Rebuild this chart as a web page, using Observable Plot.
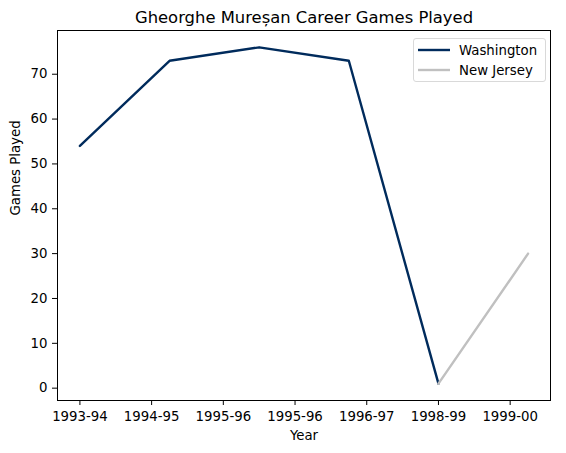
<!DOCTYPE html>
<html>
<head>
<meta charset="utf-8">
<script src="https://cdn.jsdelivr.net/npm/d3@7"></script>
<script src="https://cdn.jsdelivr.net/npm/@observablehq/plot@0.6"></script>
<style>
  html, body { margin: 0; padding: 0; background: #fff; }
  #wrap { position: relative; width: 566px; height: 453px; font-family: "DejaVu Sans", sans-serif; }
  #legend { position: absolute; left: 413px; top: 38px; width: 133px; height: 44px; box-sizing: border-box;
    border: 1px solid #d9d9d9; border-radius: 3px; background: rgba(255,255,255,0.8); font-size: 13.3px; }
  .item { position: absolute; left: 4px; height: 18px; display: flex; align-items: center; }
  .item svg { margin-right: 9px; }
</style>
</head>
<body>
<div id="wrap"><div id="legend"></div></div>
<script>
const title = "Gheorghe Mureșan Career Games Played";
const xLabel = "Year";
const yLabel = "Games Played";
const seriesNames = ["Washington", "New Jersey"];
const seriesColors = ["#002B5C", "#C0C0C0"];
const washX = [0, 1, 2, 3, 4];
const washGames = [54, 73, 76, 73, 1];
const njX = [4, 5];
const njGames = [1, 30];
const xTickValues = [0, 0.8, 1.6, 2.4, 3.2, 4.0, 4.8];
const xTickLabels = ["1993-94", "1994-95", "1995-96", "1995-96", "1996-97", "1998-99", "1999-00"];
const yTickValues = [0, 10, 20, 30, 40, 50, 60, 70];

const wash = washX.map((x, i) => ({x, y: washGames[i], team: seriesNames[0]}));
const nj = njX.map((x, i) => ({x, y: njGames[i], team: seriesNames[1]}));

const fs = 13.3;
const chart = Plot.plot({
  width: 566,
  height: 453,
  marginLeft: 57,
  marginRight: 16,
  marginTop: 30,
  marginBottom: 53,
  style: {fontFamily: "DejaVu Sans, sans-serif", fontSize: fs + "px", color: "black", background: "white"},
  x: {domain: [-0.25, 5.25]},
  y: {domain: [-2.75, 79.75]},
  marks: [
    Plot.axisX({ticks: xTickValues, tickFormat: (d) => xTickLabels[xTickValues.indexOf(d)], tickSize: 5, tickPadding: 6, label: null, fontSize: fs}),
    Plot.axisY({ticks: yTickValues, tickFormat: (d) => String(d), tickSize: 5, tickPadding: 5, label: null, fontSize: fs}),
    Plot.line(wash, {x: "x", y: "y", stroke: seriesColors[0], strokeWidth: 2.4}),
    Plot.line(nj, {x: "x", y: "y", stroke: seriesColors[1], strokeWidth: 2.4}),
    Plot.frame({stroke: "black", strokeWidth: 1}),
    Plot.text([title], {text: (d) => d, frameAnchor: "top", lineAnchor: "middle", dy: -12.8, fontSize: 16.4, fill: "black"}),
    Plot.text([xLabel], {text: (d) => d, frameAnchor: "bottom", lineAnchor: "middle", dy: 35.5, fontSize: fs, fill: "black"}),
    Plot.text([yLabel], {text: (d) => d, frameAnchor: "left", lineAnchor: "middle", dx: -42, rotate: -90, fontSize: fs, fill: "black"})
  ]
});
document.getElementById("wrap").prepend(chart);

const legend = document.getElementById("legend");
seriesNames.forEach((name, i) => {
  const item = document.createElement("div");
  item.className = "item";
  item.style.top = (2 + i * 20) + "px";
  item.innerHTML = `<svg width="32" height="4"><line x1="0" x2="32" y1="2" y2="2" stroke="${seriesColors[i]}" stroke-width="2.4"/></svg><span>${name}</span>`;
  legend.appendChild(item);
});
</script>
</body>
</html>
